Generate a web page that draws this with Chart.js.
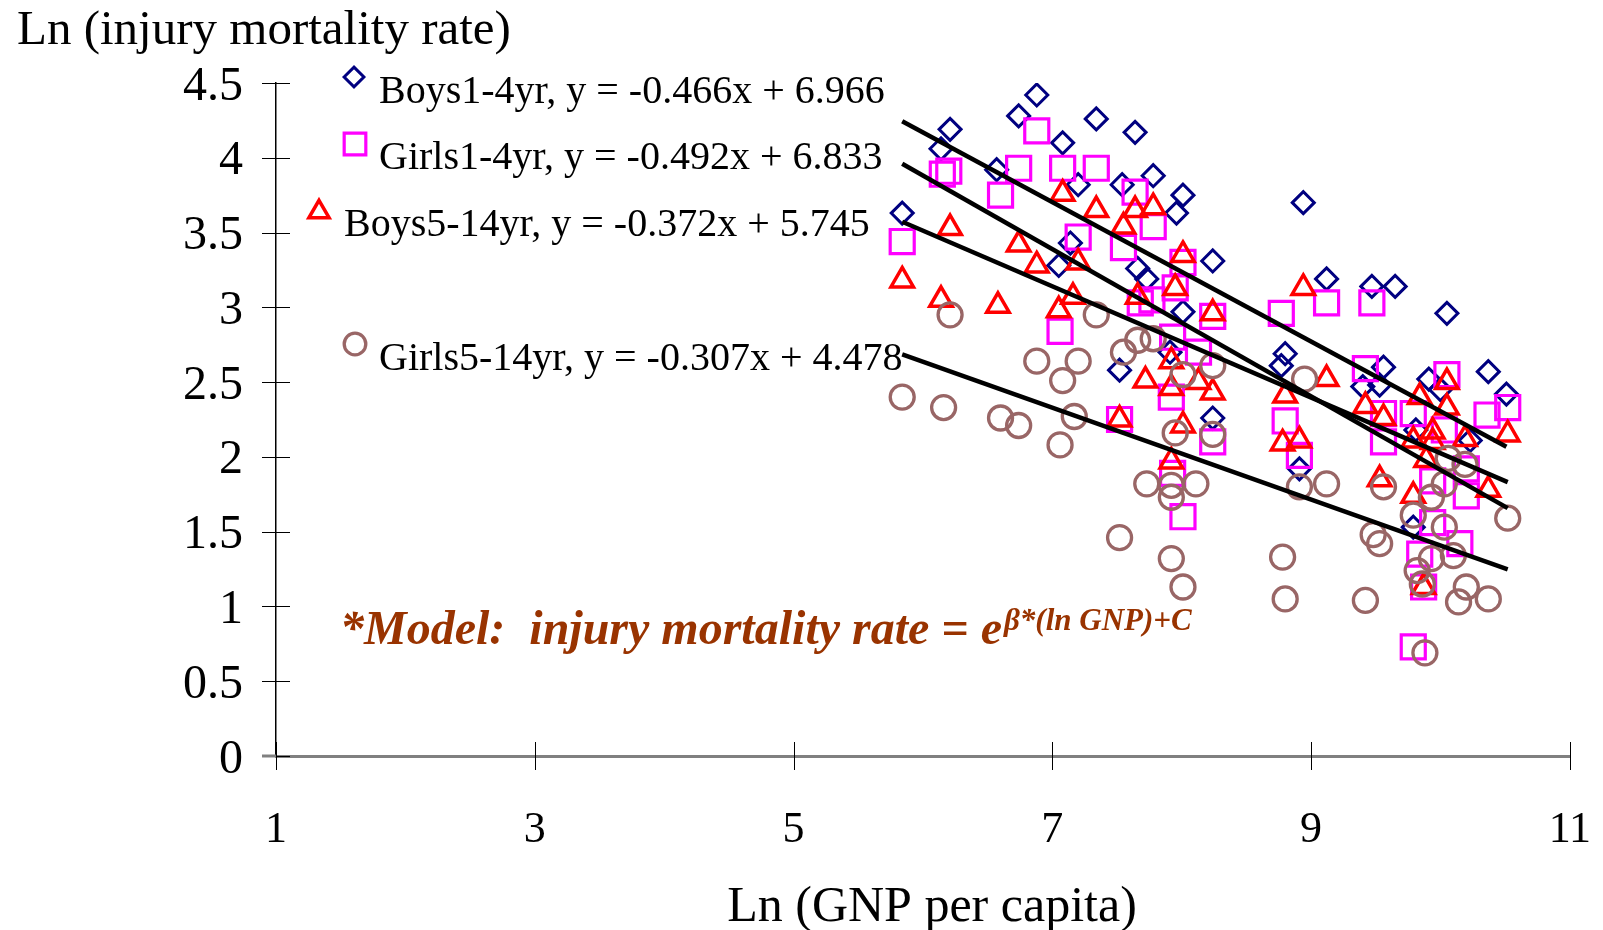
<!DOCTYPE html>
<html lang="en">
<head>
<meta charset="UTF-8" />
<title>Injury mortality vs GNP per capita</title>
<script src="https://cdn.jsdelivr.net/npm/chart.js"></script>
<style>
  html, body { margin: 0; padding: 0; background: #fff; }
  canvas { display: block; }
</style>
</head>
<body>
<canvas id="chart" width="1603" height="930"></canvas>
<script>
// regression coefficients per group, as printed in the legend
const seriesNames = ['Boys1-4yr', 'Girls1-4yr', 'Boys5-14yr', 'Girls5-14yr'];
const slopes = [-0.466, -0.492, -0.372, -0.307];
const intercepts = [6.966, 6.833, 5.745, 4.478];

const xTicks = [1, 3, 5, 7, 9, 11];
const yTicks = [0, 0.5, 1, 1.5, 2, 2.5, 3, 3.5, 4, 4.5];

// [ln GNP per capita, ln injury mortality rate]
const boys1to4 = [
  [5.84,3.63],[6.14,4.06],[6.21,4.19],[6.57,3.92],[6.74,4.28],[6.88,4.42],[7.05,3.28],[7.08,4.10],
  [7.14,3.43],[7.20,3.82],[7.34,4.26],[7.52,2.58],[7.54,3.82],[7.64,4.17],[7.66,3.26],[7.73,3.19],
  [7.78,3.88],[7.91,2.70],[7.96,3.63],[8.01,3.75],[8.01,2.97],[8.24,3.31],[8.24,2.26],[8.77,2.61],
  [8.80,2.69],[8.91,1.92],[8.94,3.70],[9.12,3.19],[9.40,2.47],[9.47,3.14],[9.53,2.48],[9.56,2.60],
  [9.65,3.14],[9.79,1.53],[9.81,2.18],[9.91,2.52],[10.00,2.45],[10.05,2.96],[10.23,2.11],[10.37,2.57],
  [10.51,2.42]
];
const girls1to4 = [
  [5.84,3.44],[6.15,3.89],[6.20,3.91],[6.60,3.75],[6.74,3.93],[6.88,4.18],[7.06,2.84],[7.08,3.93],
  [7.20,3.47],[7.34,3.93],[7.52,2.25],[7.55,3.40],[7.64,3.77],[7.68,3.03],[7.77,3.05],[7.78,3.54],
  [7.92,2.40],[7.93,2.80],[7.93,1.89],[7.95,3.13],[8.01,3.30],[8.01,1.60],[8.13,2.70],[8.24,2.94],
  [8.24,2.10],[8.77,2.96],[8.80,2.24],[8.91,2.01],[9.12,3.03],[9.42,2.59],[9.47,3.03],[9.56,2.29],
  [9.56,2.10],[9.79,2.29],[9.79,0.73],[9.84,1.35],[9.87,1.13],[9.94,1.84],[9.94,1.56],[10.03,2.18],
  [10.05,2.55],[10.15,1.42],[10.20,1.92],[10.20,1.74],[10.36,2.28],[10.52,2.33]
];
const boys5to14 = [
  [5.84,3.18],[6.14,3.05],[6.21,3.53],[6.58,3.01],[6.74,3.42],[6.88,3.28],[7.05,2.98],[7.08,3.76],
  [7.16,3.07],[7.20,3.30],[7.34,3.65],[7.52,2.25],[7.55,3.54],[7.64,3.65],[7.66,3.07],[7.72,2.51],
  [7.78,3.67],[7.92,2.64],[7.92,2.46],[7.92,1.97],[7.95,3.13],[8.01,3.35],[8.01,2.21],[8.13,2.50],
  [8.24,2.96],[8.24,2.43],[8.78,2.09],[8.80,2.41],[8.91,2.11],[8.94,3.13],[9.12,2.52],[9.42,2.34],
  [9.53,1.85],[9.56,2.26],[9.79,2.11],[9.79,1.74],[9.84,2.40],[9.87,1.13],[9.89,1.98],[9.94,2.17],
  [9.94,2.10],[10.05,2.50],[10.05,2.33],[10.19,2.12],[10.37,1.78],[10.52,2.15]
];
const girls5to14 = [
  [5.84,2.40],[6.16,2.33],[6.21,2.95],[6.60,2.26],[6.74,2.21],[6.88,2.64],[7.06,2.08],[7.08,2.51],
  [7.17,2.27],[7.20,2.64],[7.34,2.95],[7.52,1.46],[7.55,2.70],[7.66,2.78],[7.73,1.82],[7.78,2.79],
  [7.92,1.81],[7.92,1.73],[7.92,1.32],[7.95,2.16],[8.01,2.55],[8.01,1.13],[8.11,1.82],[8.24,2.61],
  [8.24,2.15],[8.78,1.33],[8.80,1.05],[8.91,1.80],[8.95,2.52],[9.12,1.82],[9.42,1.04],[9.48,1.48],
  [9.53,1.42],[9.56,1.80],[9.79,1.61],[9.82,1.24],[9.86,1.15],[9.88,0.69],[9.93,1.73],[9.93,1.32],
  [10.03,1.82],[10.03,1.53],[10.06,1.99],[10.10,1.34],[10.14,1.03],[10.19,1.95],[10.20,1.13],[10.37,1.05],
  [10.52,1.59]
];

const groups = [boys1to4, girls1to4, boys5to14, girls5to14];

const markers = [
  { pointStyle: 'rectRot', radius: 11, borderWidth: 3, color: '#000080' },
  { pointStyle: 'rect', radius: 17, borderWidth: 3.2, color: '#ff00ff' },
  { pointStyle: 'triangle', radius: 13, borderWidth: 3.5, color: '#ff0000' },
  { pointStyle: 'circle', radius: 12, borderWidth: 3.3, color: '#996666' }
];

const serif = "'Liberation Serif', 'Times New Roman', serif";

const scatterSets = groups.map((pts, i) => ({
  type: 'scatter',
  label: seriesNames[i],
  data: pts.map(p => ({ x: p[0], y: p[1] })),
  pointStyle: markers[i].pointStyle,
  pointRadius: markers[i].radius,
  pointBorderWidth: markers[i].borderWidth,
  pointBorderColor: markers[i].color,
  pointBackgroundColor: 'rgba(0,0,0,0)',
  order: 4 - i
}));

// fitted lines over each group's x range
const trendSets = groups.map((pts, i) => {
  const xs = pts.map(p => p[0]);
  const lo = Math.min(...xs), hi = Math.max(...xs);
  return {
    type: 'line',
    label: seriesNames[i] + ' fit',
    data: [lo, hi].map(v => ({ x: v, y: slopes[i] * v + intercepts[i] })),
    borderColor: '#000',
    borderWidth: 4.5,
    pointRadius: 0,
    fill: false,
    order: 0
  };
});

const fmt = n => (n < 0 ? '-' : '') + Math.abs(n).toFixed(3);

const legendSpots = [
  { mx: 354, my: 77, tx: 379, ty: 103 },
  { mx: 355, my: 144, tx: 379, ty: 169 },
  { mx: 319, my: 212, tx: 344, ty: 236 },
  { mx: 355, my: 344, tx: 379, ty: 370 }
];

const decorations = {
  id: 'decorations',
  afterDraw(chart) {
    const { ctx, scales: { x, y } } = chart;
    ctx.save();

    // tick marks crossing each axis
    ctx.strokeStyle = '#000';
    ctx.lineWidth = 1;
    y.ticks.forEach(t => {
      const py = Math.round(y.getPixelForValue(t.value)) + 0.5;
      ctx.beginPath();
      ctx.moveTo(x.left - 14, py);
      ctx.lineTo(x.left + 14, py);
      ctx.stroke();
    });
    x.ticks.forEach(t => {
      const px = Math.round(x.getPixelForValue(t.value)) + 0.5;
      ctx.beginPath();
      ctx.moveTo(px, y.bottom - 14);
      ctx.lineTo(px, y.bottom + 14);
      ctx.stroke();
    });
    // the x axis line runs on past the y axis to the end of the zero tick
    ctx.strokeStyle = '#808080';
    ctx.lineWidth = 3;
    ctx.beginPath();
    ctx.moveTo(x.left - 14, y.bottom);
    ctx.lineTo(x.left, y.bottom);
    ctx.stroke();

    // axis titles
    ctx.fillStyle = '#000';
    ctx.font = '49px ' + serif;
    ctx.textAlign = 'left';
    ctx.textBaseline = 'alphabetic';
    ctx.fillText('Ln (injury mortality rate)', 17, 44);
    ctx.font = '50px ' + serif;
    ctx.textAlign = 'center';
    ctx.fillText('Ln (GNP per capita)', 932, 921);
    ctx.textAlign = 'left';

    // legend entries with their equations
    ctx.font = '40px ' + serif;
    legendSpots.forEach((s, i) => {
      const m = markers[i];
      ctx.strokeStyle = m.color;
      ctx.fillStyle = 'rgba(0,0,0,0)';
      ctx.lineWidth = m.borderWidth;
      Chart.helpers.drawPoint(ctx, { pointStyle: m.pointStyle, radius: m.radius * 0.9, borderWidth: m.borderWidth, rotation: 0 }, s.mx, s.my);
      ctx.fillStyle = '#000';
      const text = seriesNames[i] + ', y = ' + fmt(slopes[i]) + 'x + ' + fmt(intercepts[i]);
      ctx.fillText(text, s.tx, s.ty);
    });

    // model note
    ctx.fillStyle = '#993300';
    ctx.font = 'italic bold 48px ' + serif;
    const main = '*Model:  injury mortality rate = e';
    ctx.fillText(main, 340, 644);
    const w = ctx.measureText(main).width;
    ctx.font = 'italic bold 31px ' + serif;
    ctx.fillText('\u03B2*(ln GNP)+C', 340 + w + 2, 630);

    ctx.restore();
  }
};

new Chart(document.getElementById('chart'), {
  data: { datasets: [...trendSets, ...scatterSets] },
  options: {
    responsive: false,
    animation: false,
    layout: { padding: { top: 83, right: 33, left: 0, bottom: 0 } },
    plugins: {
      legend: { display: false },
      tooltip: { enabled: false },
      title: { display: false }
    },
    scales: {
      x: {
        type: 'linear',
        min: xTicks[0],
        max: xTicks[xTicks.length - 1],
        afterBuildTicks: s => { s.ticks = xTicks.map(v => ({ value: v })); },
        afterFit: s => { s.height = 174; },
        grid: { display: true, drawOnChartArea: false, drawTicks: true, tickLength: 36, tickColor: 'rgba(0,0,0,0)', color: 'rgba(0,0,0,0)' },
        border: { display: true, color: '#808080', width: 3 },
        ticks: {
          color: '#000',
          font: { family: serif, size: 44 },
          padding: 12,
          maxRotation: 0,
          callback: v => String(v)
        }
      },
      y: {
        type: 'linear',
        min: yTicks[0],
        max: yTicks[yTicks.length - 1],
        afterBuildTicks: s => { s.ticks = yTicks.map(v => ({ value: v })); },
        afterFit: s => { s.width = 276; },
        grid: { display: false },
        border: { display: true, color: '#000', width: 1.5 },
        ticks: {
          color: '#000',
          font: { family: serif, size: 48 },
          padding: 25,
          labelOffset: 4,
          callback: v => String(v)
        }
      }
    }
  },
  plugins: [decorations]
});
</script>
</body>
</html>
